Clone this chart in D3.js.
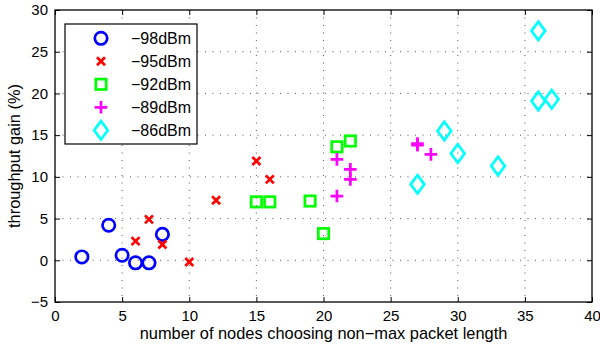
<!DOCTYPE html>
<html>
<head>
<meta charset="utf-8">
<script src="https://cdn.jsdelivr.net/npm/d3@7"></script>
<style>
  body { margin: 0; background: #fff; }
  text { font-family: "Liberation Sans", Arial, sans-serif; }
</style>
</head>
<body>
<svg id="chart" width="600" height="347"></svg>
<script>
// series: [nodes, gain %]
const s98 = [[2, 0.4], [4, 4.2], [5, 0.6], [6, -0.3], [7, -0.3], [8, 3.1]];
const s95 = [[6, 2.3], [7, 4.9], [8, 1.9], [10, -0.2], [12, 7.2], [15, 11.9], [16, 9.7]];
const s92 = [[15, 7.0], [16, 7.0], [19, 7.1], [20, 3.2], [21, 13.6], [22, 14.3]];
const s89 = [[21, 12.1], [21, 7.7], [22, 10.9], [22, 9.7], [27, 14.0], [27, 13.8], [28, 12.7]];
const s86 = [[36, 27.5], [36, 19.1], [37, 19.3], [29, 15.5], [30, 12.8], [33, 11.3], [27, 9.1]];

const seriesNames = ["\u221298dBm", "\u221295dBm", "\u221292dBm", "\u221289dBm", "\u221286dBm"];
const xTicks = [0, 5, 10, 15, 20, 25, 30, 35, 40];
const yTicks = [-5, 0, 5, 10, 15, 20, 25, 30];

const series = [
  {name: seriesNames[0], data: s98, color: "#0000ff", shape: "circle"},
  {name: seriesNames[1], data: s95, color: "#ff0000", shape: "x"},
  {name: seriesNames[2], data: s92, color: "#00ff00", shape: "square"},
  {name: seriesNames[3], data: s89, color: "#ff00ff", shape: "plus"},
  {name: seriesNames[4], data: s86, color: "#00ffff", shape: "diamond"}
];

const m = {left: 55, right: 8, top: 10, bottom: 45};
const W = 600, H = 347;

const svg = d3.select("#chart");

const x = d3.scaleLinear().domain([0, 40]).range([m.left, W - m.right]);
const y = d3.scaleLinear().domain([-5, 30]).range([H - m.bottom, m.top]);

// grid (dotted)
const grid = svg.append("g");
xTicks.slice(1, -1).forEach(t => {
  grid.append("line")
    .attr("x1", x(t)).attr("x2", x(t))
    .attr("y1", y(30)).attr("y2", y(-5))
    .attr("stroke", "#444").attr("stroke-width", 0.9)
    .attr("stroke-dasharray", "1,6.5");
});
yTicks.slice(1, -1).forEach(t => {
  grid.append("line")
    .attr("x1", x(0)).attr("x2", x(40))
    .attr("y1", y(t)).attr("y2", y(t))
    .attr("stroke", "#444").attr("stroke-width", 0.9)
    .attr("stroke-dasharray", "1,6.5");
});

// axes, ticks pointing inward on all sides
const tl = 5;
svg.append("g")
  .attr("transform", `translate(0,${y(-5)})`)
  .call(d3.axisBottom(x).tickValues(xTicks).tickSize(-tl).tickPadding(8))
  .call(g => g.select(".domain").remove());
svg.append("g")
  .attr("transform", `translate(${x(0)},0)`)
  .call(d3.axisLeft(y).tickValues(yTicks).tickSize(-tl).tickPadding(7)
    .tickFormat(d => d < 0 ? "\u2212" + Math.abs(d) : d))
  .call(g => g.select(".domain").remove());
svg.append("g")
  .attr("transform", `translate(0,${y(30)})`)
  .call(d3.axisTop(x).tickValues(xTicks).tickSize(-tl).tickFormat(""))
  .call(g => g.select(".domain").remove());
svg.append("g")
  .attr("transform", `translate(${x(40)},0)`)
  .call(d3.axisRight(y).tickValues(yTicks).tickSize(-tl).tickFormat(""))
  .call(g => g.select(".domain").remove());

svg.selectAll(".tick line").attr("stroke", "#000").attr("stroke-width", 1);
svg.selectAll(".tick text").attr("font-size", 15).attr("fill", "#000")
  .style("font-family", "Liberation Sans, Arial, sans-serif");

svg.append("rect")
  .attr("x", x(0)).attr("y", y(30))
  .attr("width", x(40) - x(0)).attr("height", y(-5) - y(30))
  .attr("fill", "none").attr("stroke", "#000").attr("stroke-width", 1.3);

// marker drawing
function drawMarker(g, shape, color) {
  const sw = 2.7;
  if (shape === "circle") {
    g.append("circle").attr("r", 6.2)
      .attr("fill", "none").attr("stroke", color).attr("stroke-width", sw);
  } else if (shape === "x") {
    g.append("path").attr("d", "M-4,-4L4,4M-4,4L4,-4")
      .attr("stroke", color).attr("stroke-width", sw);
  } else if (shape === "square") {
    g.append("rect").attr("x", -5.2).attr("y", -5.2).attr("width", 10.4).attr("height", 10.4)
      .attr("fill", "none").attr("stroke", color).attr("stroke-width", sw);
  } else if (shape === "plus") {
    g.append("path").attr("d", "M-6.3,0L6.3,0M0,-6.3L0,6.3")
      .attr("stroke", color).attr("stroke-width", sw);
  } else if (shape === "diamond") {
    g.append("path").attr("d", "M0,-9.2L6.8,0L0,9.2L-6.8,0Z")
      .attr("fill", "none").attr("stroke", color).attr("stroke-width", sw);
  }
}

series.forEach(s => {
  s.data.forEach(d => {
    const g = svg.append("g").attr("transform", `translate(${x(d[0])},${y(d[1])})`);
    drawMarker(g, s.shape, s.color);
  });
});

// legend
const lg = svg.append("g").attr("transform", "translate(65,24)");
lg.append("rect").attr("width", 132).attr("height", 120)
  .attr("fill", "#fff").attr("stroke", "#000").attr("stroke-width", 1.2);
series.forEach((s, i) => {
  const row = lg.append("g").attr("transform", `translate(0,${14.3 + i * 23})`);
  drawMarker(row.append("g").attr("transform", "translate(36,0)"), s.shape, s.color);
  row.append("text").attr("x", 66).attr("y", 6)
    .attr("font-size", 16).text(s.name);
});

// axis labels
svg.append("text")
  .attr("x", (x(0) + x(40)) / 2).attr("y", 339)
  .attr("text-anchor", "middle").attr("font-size", 16.4)
  .text("number of nodes choosing non\u2212max packet length");
svg.append("text")
  .attr("transform", `translate(20,${(y(-5) + y(30)) / 2}) rotate(-90)`)
  .attr("text-anchor", "middle").attr("font-size", 16.4)
  .text("throughput gain (%)");
</script>
</body>
</html>
